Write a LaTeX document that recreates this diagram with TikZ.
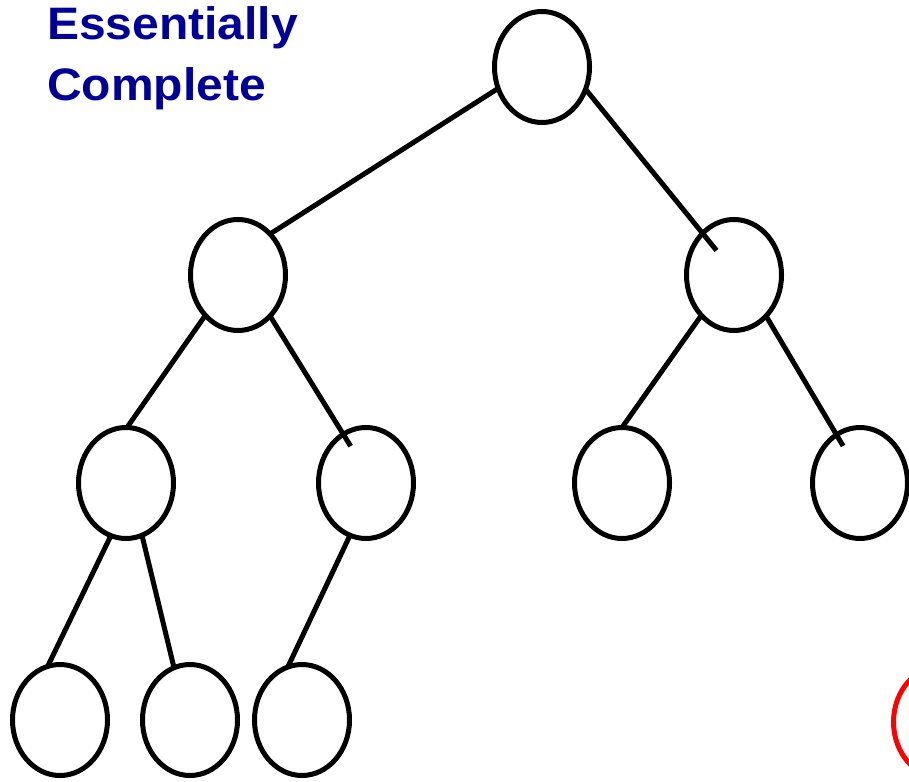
\documentclass[tikz,border=0pt]{standalone}
\usepackage{fontspec}
\setmainfont{Liberation Sans}
\usetikzlibrary{shapes.geometric}
\definecolor{titleblue}{RGB}{0,0,153}
\newcommand{\widetext}[1]{\scalebox{1.055}[1]{#1}}
\begin{document}
\begin{tikzpicture}[x=1pt,y=-1pt,
  vertex/.style={ellipse,draw=black,line width=5pt,minimum width=95pt,
    minimum height=111pt,inner sep=0pt,outer sep=0pt},
  marked/.style={vertex,draw=red},
  link/.style={draw=black,line width=5pt},
  heading/.style={anchor=base west,inner sep=0pt,text=titleblue,
    font=\bfseries\fontsize{45.5}{55}\selectfont}]
\useasboundingbox (0,0) rectangle (909,781);
\clip (0,0) rectangle (909,781);

% title
\node[heading] (t1) at (47,39.5) {\widetext{Essentially}};
\node[heading] (t2) at (47,100) {\widetext{Complete}};

% tree vertices, level by level
\node[vertex] (root) at (542,67) {};
\node[vertex] (a) at (238,275) {};
\node[vertex] (b) at (734,275) {};
\node[vertex] (c) at (126,483) {};
\node[vertex] (d) at (366,483) {};
\node[vertex] (e) at (622,483) {};
\node[vertex] (f) at (860,483) {};
\node[vertex] (g) at (60,720) {};
\node[vertex] (h) at (190,720) {};
\node[vertex] (i) at (302,720) {};

% next slot, highlighted
\node[marked] (next) at (941,722) {};

% edges
\draw[link] (root.206) -- (a.52);
\draw[link,shorten >=-22pt] (root.333) -- (b.127);
\draw[link] (a.231) -- (c.89);
\draw[link,shorten >=-14pt] (a.308) -- (d.115);
\draw[link] (b.231) -- (e.90);
\draw[link,shorten >=-13pt] (b.308) -- (f.116);
\draw[link] (c.254) -- (g.103);
\draw[link] (c.287) -- (h.107);
\draw[link] (d.253) -- (i.105);
\end{tikzpicture}
\end{document}
